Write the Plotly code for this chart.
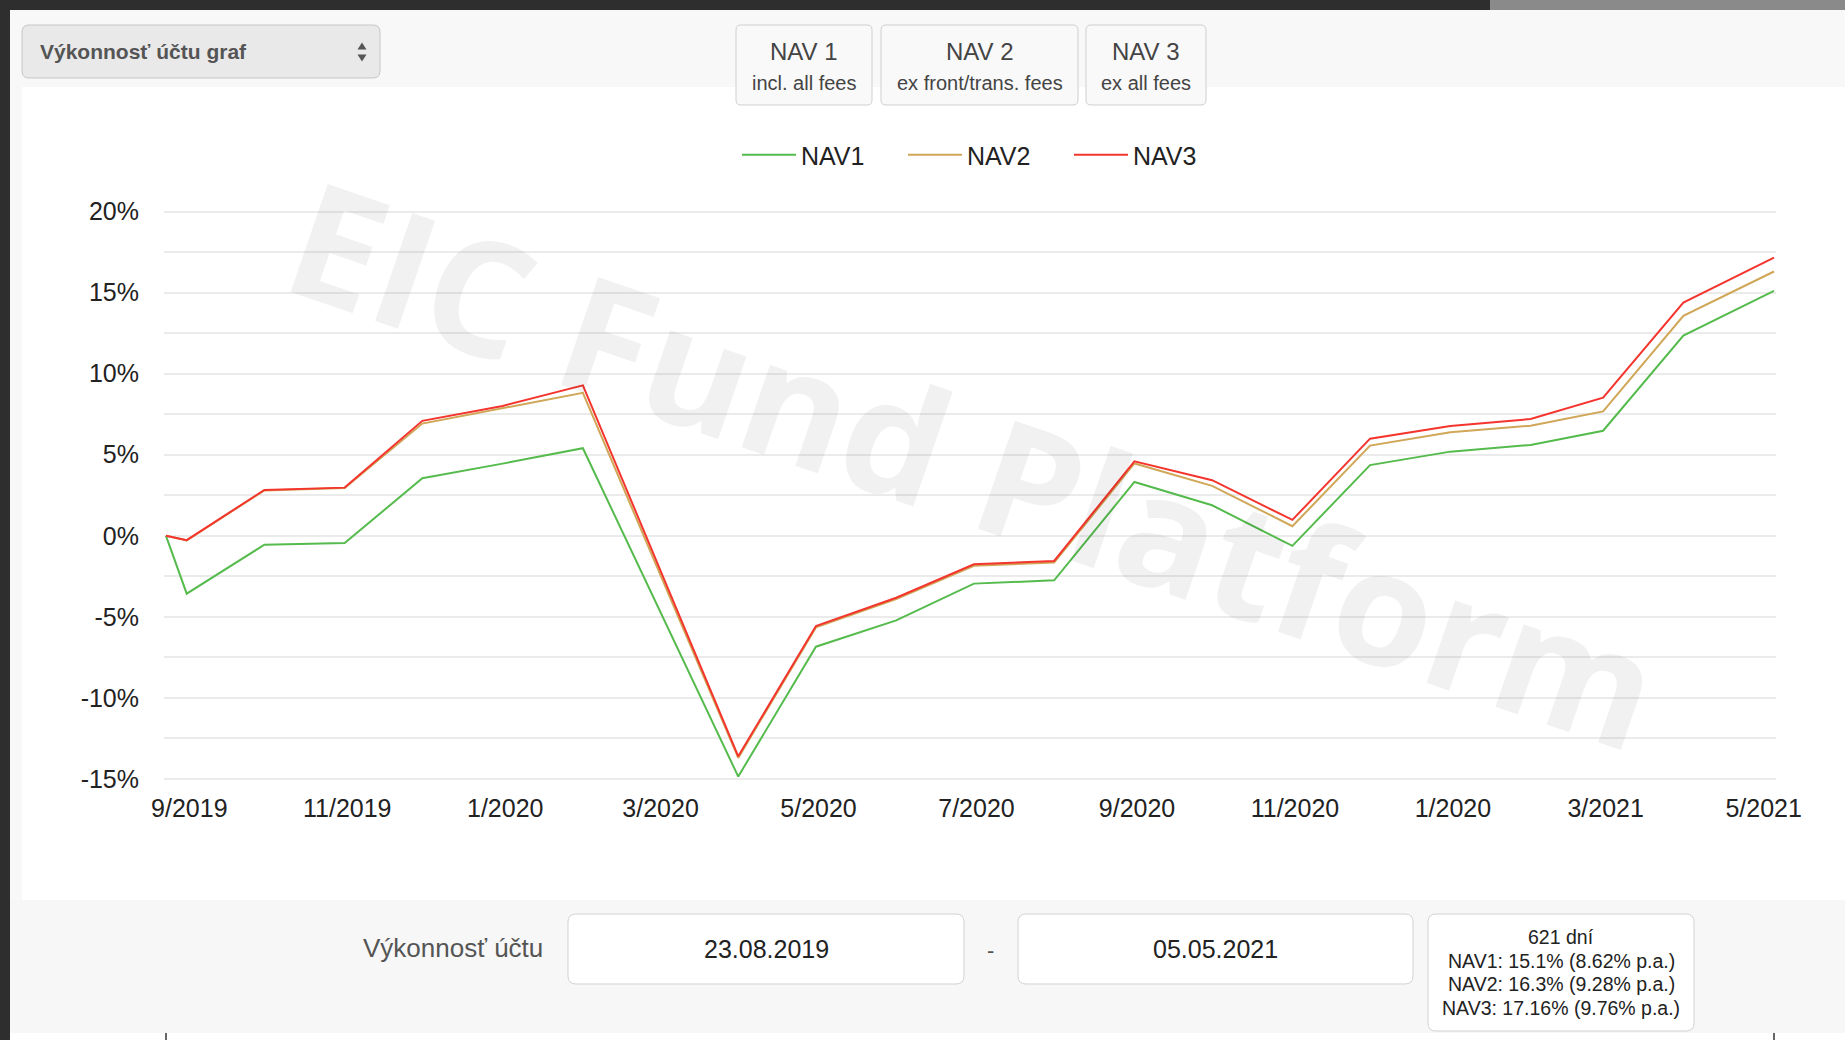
import pandas as pd
import plotly.graph_objects as go

# ---------------- data ----------------
dates = ["2019-08-23", "2019-08-31", "2019-09-30", "2019-10-31", "2019-11-30",
         "2019-12-31", "2020-01-31", "2020-03-31", "2020-04-30", "2020-05-31",
         "2020-06-30", "2020-07-31", "2020-08-31", "2020-09-30", "2020-10-31",
         "2020-11-30", "2020-12-31", "2021-01-31", "2021-02-28", "2021-03-31",
         "2021-05-05"]
nav1 = [0, -3.57, -0.55, -0.45, 3.55, 4.45, 5.40, -14.85, -6.84, -5.22, -2.95,
        -2.75, 3.32, 1.88, -0.62, 4.36, 5.19, 5.60, 6.48, 12.35, 15.10]
nav2 = [0, -0.28, 2.80, 2.94, 6.92, 7.87, 8.82, -13.70, -5.65, -3.90, -1.85,
        -1.65, 4.46, 3.08, 0.59, 5.56, 6.38, 6.79, 7.67, 13.56, 16.30]
nav3 = [0, -0.27, 2.83, 2.97, 7.09, 8.01, 9.28, -13.60, -5.57, -3.82, -1.76,
        -1.55, 4.59, 3.43, 0.98, 5.99, 6.77, 7.20, 8.52, 14.38, 17.16]
series_names = ["NAV1", "NAV2", "NAV3"]

tick_dates = ["2019-09-01", "2019-11-01", "2020-01-01", "2020-03-01", "2020-05-01",
              "2020-07-01", "2020-09-01", "2020-11-01", "2021-01-01", "2021-03-01",
              "2021-05-01"]
tick_text = ["9/2019", "11/2019", "1/2020", "3/2020", "5/2020", "7/2020", "9/2020",
             "11/2020", "1/2020", "3/2021", "5/2021"]
y_ticks = [-15, -10, -5, 0, 5, 10, 15, 20]

buttons = [("NAV 1", "incl. all fees"), ("NAV 2", "ex front/trans. fees"),
           ("NAV 3", "ex all fees")]
period_from = "23.08.2019"
period_to = "05.05.2021"
stats_lines = ["621 dní", "NAV1: 15.1% (8.62% p.a.)", "NAV2: 16.3% (9.28% p.a.)",
               "NAV3: 17.16% (9.76% p.a.)"]

# ---------------- styles / geometry ----------------
W, H = 1845, 1040
L, R, T, B = 164, 1776, 205, 785          # plot area in px
X0, X1 = 166, 1774                        # pixel of first / last date
Y_TOP_PX, Y_BOT_PX = 211.5, 779.0         # pixel of 20% / -15%
colors = ["#55bb4d", "#d0a657", "#f4352e"]
FONT = "Liberation Sans, Arial, sans-serif"

d0 = pd.Timestamp(dates[0])
d1 = pd.Timestamp(dates[-1])
px_per_day = (X1 - X0) / ((d1 - d0).total_seconds() / 86400)
xr0 = d0 - pd.Timedelta(days=(X0 - L) / px_per_day)
xr1 = d1 + pd.Timedelta(days=(R - X1) / px_per_day)
px_per_pct = (Y_BOT_PX - Y_TOP_PX) / (y_ticks[-1] - y_ticks[0])
yr1 = y_ticks[-1] + (Y_TOP_PX - T) / px_per_pct
yr0 = y_ticks[0] - (B - Y_BOT_PX) / px_per_pct


def fx(px):
    return (px - L) / (R - L)


def fy(py):
    return (B - py) / (B - T)


def rect(x0, y0, x1, y1, fill, line=None, lw=0):
    return dict(type="rect", xref="paper", yref="paper", layer="below",
                x0=fx(x0), x1=fx(x1), y0=fy(y1), y1=fy(y0),
                fillcolor=fill, line=dict(width=lw, color=line or fill))


def rrect(x0, y0, x1, y1, r, fill, line, lw=1):
    pts = [("M", x0 + r, y0), ("L", x1 - r, y0), ("Q", x1, y0, x1, y0 + r),
           ("L", x1, y1 - r), ("Q", x1, y1, x1 - r, y1), ("L", x0 + r, y1),
           ("Q", x0, y1, x0, y1 - r), ("L", x0, y0 + r), ("Q", x0, y0, x0 + r, y0)]
    path = ""
    for p in pts:
        cmd = p[0]
        coords = p[1:]
        seg = " ".join(f"{fx(coords[i]):.6f},{fy(coords[i + 1]):.6f}"
                       for i in range(0, len(coords), 2))
        path += f"{cmd} {seg} "
    path += "Z"
    return dict(type="path", xref="paper", yref="paper", layer="below", path=path,
                fillcolor=fill, line=dict(color=line, width=lw))


def tri(cx, cy, w, h, up, color):
    if up:
        pts = [(cx - w / 2, cy + h / 2), (cx + w / 2, cy + h / 2), (cx, cy - h / 2)]
    else:
        pts = [(cx - w / 2, cy - h / 2), (cx + w / 2, cy - h / 2), (cx, cy + h / 2)]
    path = "M " + " L ".join(f"{fx(a):.6f},{fy(b):.6f}" for a, b in pts) + " Z"
    return dict(type="path", xref="paper", yref="paper", layer="above", path=path,
                fillcolor=color, line=dict(width=0))


def text(px, py, s, size, color="#333", xanchor="center", family=FONT):
    return dict(xref="paper", yref="paper", x=fx(px), y=fy(py), text=s,
                showarrow=False, xanchor=xanchor, yanchor="middle",
                font=dict(family=family, size=size, color=color))


# ---------------- figure ----------------
fig = go.Figure()
for name, vals, col in zip(series_names, [nav1, nav2, nav3], colors):
    fig.add_trace(go.Scatter(x=dates, y=vals, name=name, mode="lines",
                             line=dict(color=col, width=2)))

shapes = [
    rect(0, 0, 10, H, "#2e2e2e"),
    rect(0, 0, W, 10, "#2e2e2e"),
    rect(1490, 0, W, 10, "#8a8a8a"),
    rect(10, 10, W, 87, "#f8f8f8"),
    rect(10, 87, 22, 900, "#f8f8f8"),
    rect(10, 900, W, 1033, "#f7f7f7"),
    # dropdown
    rrect(22, 25, 380, 78, 7, "#e9e9e9", "#c6c6c6", 1),
    # NAV buttons
    rrect(736, 25, 872, 105, 5, "#f9f9f9", "#cfcfcf", 1),
    rrect(881, 25, 1078, 105, 5, "#f9f9f9", "#cfcfcf", 1),
    rrect(1086, 25, 1206, 105, 5, "#f9f9f9", "#cfcfcf", 1),
    # bottom boxes
    rrect(568, 914, 964, 984, 8, "#ffffff", "#d2d2d2", 1),
    rrect(1018, 914, 1413, 984, 8, "#ffffff", "#d2d2d2", 1),
    rrect(1428, 914, 1694, 1031, 8, "#ffffff", "#d2d2d2", 1),
    # dropdown arrows
    tri(362, 46, 9, 7, True, "#555555"),
    tri(362, 58, 9, 7, False, "#555555"),
    # lower chart stubs
    dict(type="line", xref="paper", yref="paper", layer="above",
         x0=fx(X0), x1=fx(X0), y0=fy(1033), y1=fy(1040),
         line=dict(color="#333", width=1.5)),
    dict(type="line", xref="paper", yref="paper", layer="above",
         x0=fx(X1), x1=fx(X1), y0=fy(1033), y1=fy(1040),
         line=dict(color="#333", width=1.5)),
]

btn_centers = [804, 979.5, 1146]
annotations = [
    text(975, 462, "<b>EIC Fund Platform</b>", 160, "rgba(0,0,0,0.055)",
         family="Open Sans, DejaVu Sans, sans-serif"),
    text(38, 51.5, "<b>Výkonnosť účtu graf</b>", 21, "#555", xanchor="left"),
]
annotations[0]["textangle"] = 19
for (title, sub), cx in zip(buttons, btn_centers):
    annotations.append(text(cx, 52, title, 24, "#444"))
    annotations.append(text(cx, 83, sub, 20, "#444"))
annotations += [
    text(453, 948, "Výkonnosť účtu", 26, "#555"),
    text(766, 949, period_from, 25, "#222"),
    text(990, 950, "-", 22, "#555"),
    text(1215, 949, period_to, 25, "#222"),
]
for i, line in enumerate(stats_lines):
    annotations.append(text(1561, 937 + i * 23.5, line, 19.5, "#222"))

fig.update_layout(
    width=W, height=H,
    margin=dict(l=L, r=W - R, t=T, b=H - B, pad=0),
    paper_bgcolor="#ffffff", plot_bgcolor="#ffffff",
    font=dict(family=FONT, color="#222"),
    shapes=shapes, annotations=annotations,
    showlegend=True,
    legend=dict(orientation="h", x=fx(737), xanchor="left", y=fy(155),
                yanchor="middle", font=dict(size=25, color="#222"),
                bgcolor="rgba(0,0,0,0)", itemwidth=54,
                entrywidth=97, entrywidthmode="pixels"),
    xaxis=dict(type="date", range=[xr0, xr1], tickmode="array",
               tickvals=tick_dates, ticktext=tick_text, showgrid=False,
               zeroline=False, showline=False, ticks="",
               tickfont=dict(size=25, color="#222"), ticklabelstandoff=6),
    yaxis=dict(range=[yr0, yr1], tickmode="array", tickvals=y_ticks,
               ticktext=[f"{v}%" for v in y_ticks], showgrid=True,
               gridcolor="#ebebeb", gridwidth=1.5, zeroline=False, showline=False,
               ticks="", tickfont=dict(size=25, color="#222"), ticklabelstandoff=24,
               minor=dict(dtick=2.5, tick0=0, showgrid=True, gridcolor="#ebebeb",
                          gridwidth=1.5)),
)

fig.write_html("out.html", config={"displayModeBar": False},
               post_script="document.body.style.margin='0px';"
                           "document.body.style.overflow='hidden';")
